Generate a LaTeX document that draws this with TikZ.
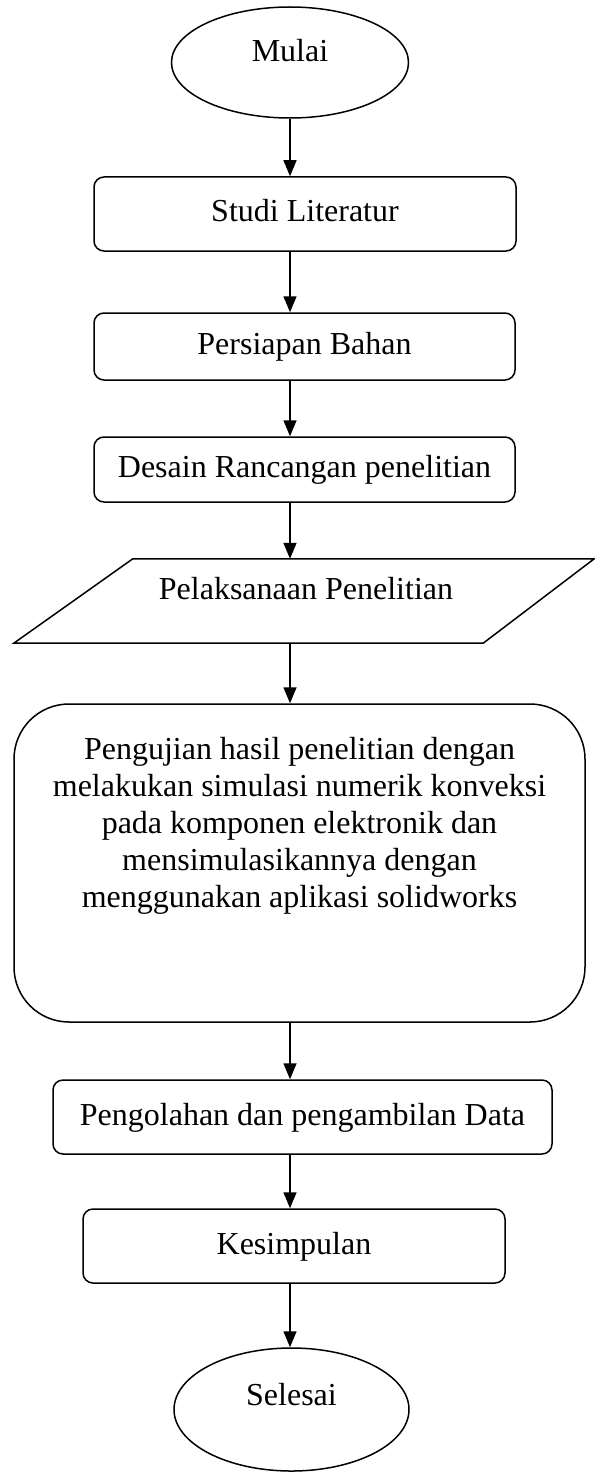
\documentclass[tikz,border=0pt]{standalone}
\usepackage{fontspec}
\setmainfont{Liberation Serif}
\usepackage{tikz}
\usetikzlibrary{arrows.meta,positioning,calc,shapes.geometric}

\begin{document}
\begin{tikzpicture}[x=1pt,y=-1pt,
  every node/.style={font=\fontsize{32}{37}\selectfont},
  term/.style={draw,ellipse,line width=1.5pt,inner sep=0pt,text height=21pt,text depth=23pt},
  proc/.style={draw,rectangle,rounded corners=10pt,line width=1.5pt,inner sep=0pt,text height=21pt,text depth=5pt},
  arr/.style={-{Triangle[length=16pt,width=13pt]},line width=1.5pt}]
  \useasboundingbox (0,0) rectangle (594,1474);
  \node[term,minimum width=237,minimum height=111] (mulai) at (290,62.5) {Mulai};
  \node[proc,minimum width=422,minimum height=74] (studi) at (305,214) {Studi Literatur};
  \node[proc,minimum width=421,minimum height=67] (persiapan) at (304.5,346.5) {Persiapan Bahan};
  \node[proc,minimum width=421,minimum height=65] (desain) at (304.5,469.5) {Desain Rancangan penelitian};
  \node[rectangle,inner sep=0pt,minimum width=465,minimum height=84,text height=21pt,text depth=25pt] (pelaksanaan) at (306,601) {Pelaksanaan Penelitian};
  \draw[line width=1.5pt] ($(pelaksanaan.north west)+(59.5,0)$) -- ($(pelaksanaan.north east)+(55.5,0)$)
    -- ($(pelaksanaan.south east)+(-55.5,0)$) -- ($(pelaksanaan.south west)+(-59.5,0)$) -- cycle;
  \node[draw,rectangle,rounded corners=55pt,line width=1.5pt,minimum width=571,minimum height=318] (pengujian) at (299.5,863) {};
  \node[align=center,inner sep=0pt] (pengujiantext) at (299.5,826) {Pengujian hasil penelitian dengan\\melakukan simulasi numerik konveksi\\pada komponen elektronik dan\\mensimulasikannya dengan\\menggunakan aplikasi solidworks};
  \node[proc,minimum width=499,minimum height=74] (pengolahan) at (302.5,1117) {Pengolahan dan pengambilan Data};
  \node[proc,minimum width=422,minimum height=74] (kesimpulan) at (294,1246) {Kesimpulan};
  \node[term,minimum width=235,minimum height=123,text depth=30pt] (selesai) at (291.5,1409.5) {Selesai};
  \draw[arr] (mulai) -- (mulai |- studi.north);
  \draw[arr] (studi.south -| mulai) -- (persiapan.north -| mulai);
  \draw[arr] (persiapan.south -| mulai) -- (desain.north -| mulai);
  \draw[arr] (desain.south -| mulai) -- (pelaksanaan.north -| mulai);
  \draw[arr] (pelaksanaan.south -| mulai) -- (pengujian.north -| mulai);
  \draw[arr] (pengujian.south -| mulai) -- (pengolahan.north -| mulai);
  \draw[arr] (pengolahan.south -| mulai) -- (kesimpulan.north -| mulai);
  \draw[arr] (kesimpulan.south -| mulai) -- (selesai.north -| mulai);
\end{tikzpicture}
\end{document}
